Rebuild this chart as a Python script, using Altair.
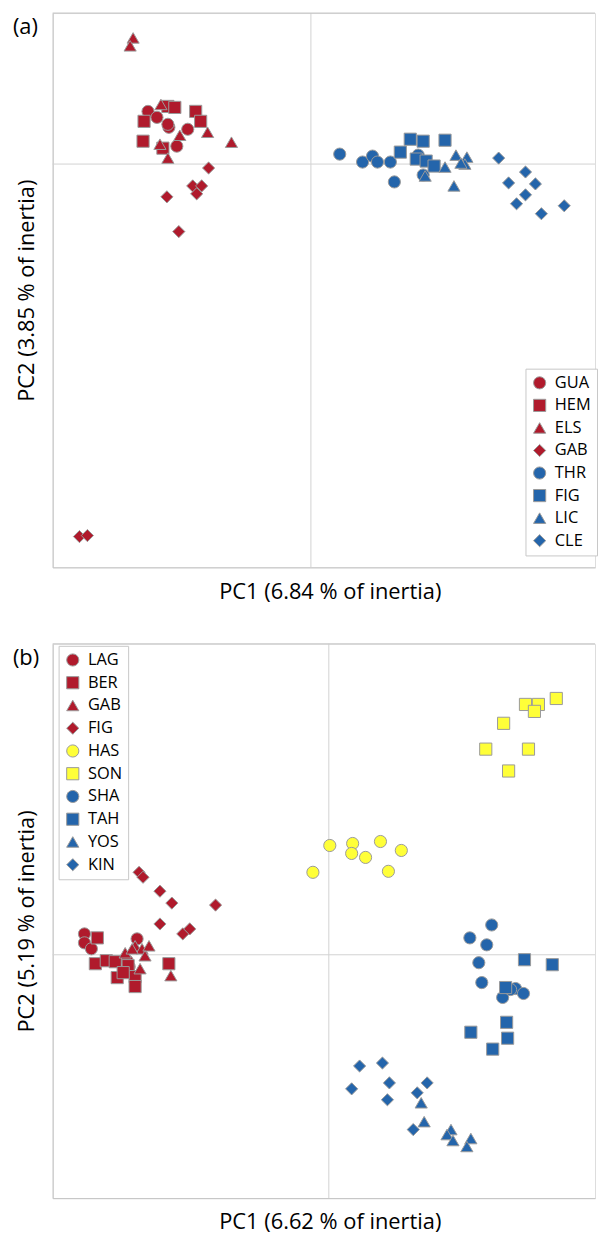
import altair as alt
import pandas as pd

RED = "#b01a2c"
BLUE = "#2465ab"
YEL = "#ffff38"
FONT = "Open Sans"
FRAME = "#c4c4c4"
ZERO = "#d2d2d2"

# ---------------- Panel (a) ----------------
A_GROUPS = ["GUA", "HEM", "ELS", "GAB", "THR", "FIG", "LIC", "CLE"]
A_COLORS = [RED, RED, RED, RED, BLUE, BLUE, BLUE, BLUE]
A_SHAPES = ["circle", "square", "triangle-up", "diamond"] * 2
A_XTITLE = "PC1 (6.84 % of inertia)"
A_YTITLE = "PC2 (3.85 % of inertia)"

a_gua_x = [-1.64, -1.55, -1.43, -1.44, -1.24, -1.35]
a_gua_y = [0.53, 0.47, 0.37, 0.40, 0.35, 0.18]
a_hem_x = [-1.44, -1.37, -1.16, -1.11, -1.68, -1.69, -1.49]
a_hem_y = [0.58, 0.57, 0.53, 0.43, 0.43, 0.23, 0.16]
a_els_x = [-1.79, -1.82, -1.51, -1.32, -1.04, -0.80, -1.52, -1.44]
a_els_y = [1.27, 1.19, 0.60, 0.29, 0.32, 0.22, 0.20, 0.06]
a_gab_x = [-1.03, -1.19, -1.10, -1.15, -1.45, -1.33, -2.33, -2.25]
a_gab_y = [-0.04, -0.22, -0.22, -0.30, -0.33, -0.68, -3.75, -3.74]
a_thr_x = [0.29, 0.52, 0.62, 0.67, 0.80, 0.84, 1.08, 1.13]
a_thr_y = [0.10, 0.02, 0.08, 0.02, 0.02, -0.18, 0.09, -0.11]
a_fig_x = [0.90, 1.00, 1.13, 1.35, 1.06, 1.16, 1.24]
a_fig_y = [0.12, 0.25, 0.23, 0.24, 0.05, 0.03, -0.02]
a_lic_x = [1.15, 1.35, 1.46, 1.57, 1.55, 1.51, 1.44]
a_lic_y = [-0.12, -0.03, 0.09, 0.07, 0.00, 0.01, -0.22]
a_cle_x = [1.89, 2.16, 1.99, 2.26, 2.16, 2.07, 2.32, 2.55]
a_cle_y = [0.06, -0.08, -0.19, -0.20, -0.31, -0.40, -0.50, -0.42]
A_XDOM = [-2.60, 2.86]
A_YDOM = [-4.06, 1.52]

# ---------------- Panel (b) ----------------
B_GROUPS = ["LAG", "BER", "GAB", "FIG", "HAS", "SON", "SHA", "TAH", "YOS", "KIN"]
B_COLORS = [RED, RED, RED, RED, YEL, YEL, BLUE, BLUE, BLUE, BLUE]
B_SHAPES = ["circle", "square", "triangle-up", "diamond", "circle", "square",
            "circle", "square", "triangle-up", "diamond"]
B_XTITLE = "PC1 (6.62 % of inertia)"
B_YTITLE = "PC2 (5.19 % of inertia)"

b_lag_x = [-2.46, -2.46, -2.39, -1.93, -2.03, -2.01]
b_lag_y = [0.21, 0.12, 0.06, 0.16, -0.06, -0.12]
b_ber_x = [-2.33, -2.35, -2.24, -2.15, -2.13, -2.02, -1.95, -1.95, -1.61, -2.07]
b_ber_y = [0.17, -0.09, -0.06, -0.07, -0.23, -0.11, -0.22, -0.32, -0.09, -0.18]
b_gab_x = [-2.05, -1.95, -1.88, -1.81, -1.85, -1.90, -1.59, -1.98]
b_gab_y = [0.02, 0.09, 0.06, 0.09, -0.01, -0.14, -0.21, 0.06]
b_fig_x = [-1.91, -1.87, -1.70, -1.58, -1.14, -1.70, -1.47, -1.40]
b_fig_y = [0.83, 0.78, 0.64, 0.52, 0.50, 0.31, 0.21, 0.26]
b_has_x = [0.01, 0.24, 0.23, 0.37, 0.52, 0.73, 0.60, -0.16]
b_has_y = [1.10, 1.12, 1.02, 0.98, 1.14, 1.05, 0.84, 0.83]
b_son_x = [1.98, 2.11, 2.07, 2.29, 1.76, 1.58, 2.01, 1.81]
b_son_y = [2.52, 2.52, 2.45, 2.58, 2.33, 2.07, 2.07, 1.85]
b_sha_x = [1.64, 1.42, 1.59, 1.51, 1.54, 1.75, 1.88, 1.96, 1.83]
b_sha_y = [0.30, 0.17, 0.10, -0.08, -0.28, -0.43, -0.34, -0.39, -0.35]
b_tah_x = [1.97, 2.25, 1.78, 1.79, 1.43, 1.80, 1.65]
b_tah_y = [-0.05, -0.10, -0.33, -0.68, -0.78, -0.84, -0.95]
b_yos_x = [0.93, 0.96, 1.23, 1.19, 1.25, 1.43, 1.39]
b_yos_y = [-1.49, -1.68, -1.76, -1.81, -1.87, -1.85, -1.93]
b_kin_x = [0.31, 0.54, 0.23, 0.61, 0.99, 0.89, 0.59, 0.85]
b_kin_y = [-1.12, -1.09, -1.35, -1.29, -1.29, -1.39, -1.46, -1.76]
B_XDOM = [-2.78, 2.68]
B_YDOM = [-2.45, 3.13]

A_SERIES = [
    ("GUA", a_gua_x, a_gua_y), ("HEM", a_hem_x, a_hem_y), ("ELS", a_els_x, a_els_y),
    ("GAB", a_gab_x, a_gab_y), ("THR", a_thr_x, a_thr_y), ("FIG", a_fig_x, a_fig_y),
    ("LIC", a_lic_x, a_lic_y), ("CLE", a_cle_x, a_cle_y),
]
B_SERIES = [
    ("LAG", b_lag_x, b_lag_y), ("BER", b_ber_x, b_ber_y), ("GAB", b_gab_x, b_gab_y),
    ("FIG", b_fig_x, b_fig_y), ("HAS", b_has_x, b_has_y), ("SON", b_son_x, b_son_y),
    ("SHA", b_sha_x, b_sha_y), ("TAH", b_tah_x, b_tah_y), ("YOS", b_yos_x, b_yos_y),
    ("KIN", b_kin_x, b_kin_y),
]


def make_df(series):
    rows = []
    for g, xs, ys in series:
        for x, y in zip(xs, ys):
            rows.append({"group": g, "x": x, "y": y})
    return pd.DataFrame(rows)


W, H = 546, 558


def panel(df, groups, colors, shapes, xdom, ydom, xtitle, ytitle, tag, lx, ly, rp):
    xs = alt.Scale(domain=xdom, nice=False, zero=False)
    ys = alt.Scale(domain=ydom, nice=False, zero=False)
    xaxis = alt.Axis(title=xtitle, labels=False, ticks=False, grid=False,
                     domain=True, domainColor=FRAME, domainWidth=1,
                     titleFont=FONT, titleFontSize=22, titleFontWeight="normal",
                     titleColor="black", titlePadding=14, titleX=279)
    yaxis = alt.Axis(title=ytitle, labels=False, ticks=False, grid=False,
                     domain=True, domainColor=FRAME, domainWidth=1,
                     titleFont=FONT, titleFontSize=22, titleFontWeight="normal",
                     titleColor="black", titlePadding=14)
    legend = alt.Legend(orient="none", legendX=lx, legendY=ly, title=None,
                        strokeColor="#c8c8c8", fillColor="white", padding=6,
                        rowPadding=rp, symbolSize=150, symbolStrokeColor="#9a9a9a",
                        symbolStrokeWidth=1, labelFont=FONT, labelFontSize=16.5,
                        labelColor="black", labelOffset=7, cornerRadius=0)
    zero = pd.DataFrame({"v": [0.0]})
    vline = alt.Chart(zero).mark_rule(color=ZERO, strokeWidth=1).encode(
        x=alt.X("v:Q", scale=xs, axis=xaxis))
    hline = alt.Chart(zero).mark_rule(color=ZERO, strokeWidth=1).encode(
        y=alt.Y("v:Q", scale=ys, axis=yaxis))
    top = alt.Chart(zero).mark_rule(color=FRAME, strokeWidth=1).encode(
        x=alt.value(0), x2=alt.value(W), y=alt.value(0))
    pts = alt.Chart(df).mark_point(filled=True, size=150, opacity=1,
                                   stroke="#9a9a9a", strokeWidth=1).encode(
        x=alt.X("x:Q", scale=xs, axis=xaxis),
        y=alt.Y("y:Q", scale=ys, axis=yaxis),
        color=alt.Color("group:N", scale=alt.Scale(domain=groups, range=colors),
                        legend=legend),
        shape=alt.Shape("group:N", scale=alt.Scale(domain=groups, range=shapes),
                        legend=legend),
        order=alt.value(0),
    )
    tagt = alt.Chart(zero).mark_text(text=tag, fontSize=22, font=FONT,
                                     align="left", baseline="middle",
                                     color="black").encode(
        x=alt.value(-40), y=alt.value(14))
    return alt.layer(vline, hline, top, pts, tagt).properties(width=W, height=H)


pa = panel(make_df(A_SERIES), A_GROUPS, A_COLORS, A_SHAPES, A_XDOM, A_YDOM,
           A_XTITLE, A_YTITLE, "(a)", 476, 358, 5.7)
pb = panel(make_df(B_SERIES), B_GROUPS, B_COLORS, B_SHAPES, B_XDOM, B_YDOM,
           B_XTITLE, B_YTITLE, "(b)", 6, 2, 5.9)

chart = alt.vconcat(pa, pb, spacing=40).resolve_scale(
    color="independent", shape="independent", x="independent", y="independent"
).resolve_legend(color="independent", shape="independent").properties(
    padding={"left": 12, "top": 8, "right": 0, "bottom": 2}
).configure_view(stroke=None).configure(background="white")

chart.save("out.html", embed_options={"renderer": "svg", "actions": False})
